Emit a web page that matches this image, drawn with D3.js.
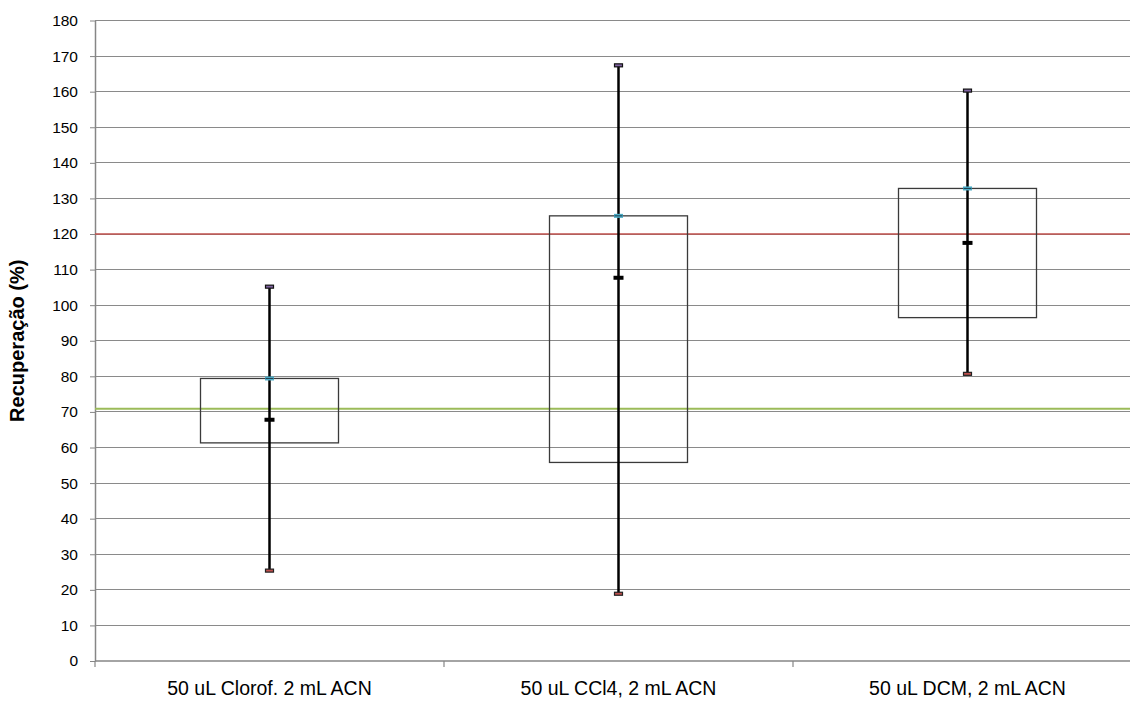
<!DOCTYPE html>
<html><head><meta charset="utf-8">
<script src="https://cdn.jsdelivr.net/npm/d3@7"></script>
<style>body{margin:0;background:#fff}svg{display:block}</style>
</head><body>
<script>
const categories = ["50 uL Clorof. 2 mL ACN", "50 uL CCl4, 2 mL ACN", "50 uL DCM, 2 mL ACN"];
const maxVals = [105.2, 167.4, 160.3];
const q3Vals = [79.4, 125.1, 132.8];
const medianVals = [67.8, 107.7, 117.5];
const q1Vals = [61.3, 55.8, 96.5];
const minVals = [25.4, 18.9, 80.7];
const upperLimit = 120;
const lowerLimit = 70.9;
const yTicks = d3.range(0, 181, 10);

const W = 1130, H = 706;
const svg = d3.select("body").append("svg").attr("width", W).attr("height", H);
const font = "'Liberation Sans', Arial, sans-serif";

const x = d3.scaleBand().domain(categories).range([95, 1142]).padding(0);
const y = d3.scaleLinear().domain([0, 180]).range([661, 20.5]);

// gridlines
svg.append("g").selectAll("line").data(yTicks.filter(d => d > 0)).join("line")
  .attr("x1", 95).attr("x2", W).attr("y1", d => y(d)).attr("y2", d => y(d))
  .attr("stroke", "#8a8a8a").attr("stroke-width", 1).attr("shape-rendering", "crispEdges");

// y axis
const yAxis = svg.append("g").attr("transform", "translate(95,0)")
  .call(d3.axisLeft(y).tickValues(yTicks).tickSize(5).tickPadding(12).tickSizeOuter(0));
yAxis.select(".domain").attr("stroke", "#868686").attr("stroke-width", 1.5);
yAxis.selectAll(".tick line").attr("stroke", "#868686");
yAxis.selectAll("text").attr("font-family", font).attr("font-size", 15.5).attr("fill", "#000");

// x axis
const xAxis = svg.append("g").attr("transform", "translate(0,661)")
  .call(d3.axisBottom(x).tickSize(0).tickPadding(20).tickSizeOuter(0));
xAxis.select(".domain").attr("stroke", "#868686").attr("stroke-width", 1.5).attr("d", `M95,0H${W}`);
xAxis.selectAll("text").attr("font-family", font).attr("font-size", 19.5).attr("fill", "#000");
// category boundary ticks
svg.append("g").selectAll("line").data(categories).join("line")
  .attr("x1", d => x(d)).attr("x2", d => x(d)).attr("y1", 661).attr("y2", 667)
  .attr("stroke", "#868686").attr("stroke-width", 1.2);

// reference lines
svg.append("line").attr("x1", 95).attr("x2", W).attr("y1", y(upperLimit)).attr("y2", y(upperLimit))
  .attr("stroke", "#c0504d").attr("stroke-width", 1.5);
svg.append("line").attr("x1", 95).attr("x2", W).attr("y1", y(lowerLimit)).attr("y2", y(lowerLimit))
  .attr("stroke", "#9bbb59").attr("stroke-width", 2);

const boxW = 138;
const cx = d => x(d) + x.bandwidth() / 2;
const data = categories.map((c, i) => ({c, max: maxVals[i], q3: q3Vals[i], med: medianVals[i], q1: q1Vals[i], min: minVals[i]}));
const g = svg.append("g").selectAll("g").data(data).join("g");

g.append("rect").attr("x", d => cx(d.c) - boxW / 2).attr("width", boxW)
  .attr("y", d => y(d.q3)).attr("height", d => y(d.q1) - y(d.q3))
  .attr("fill", "none").attr("stroke", "#3a3a3a").attr("stroke-width", 1.3);

g.append("line").attr("x1", d => cx(d.c)).attr("x2", d => cx(d.c))
  .attr("y1", d => y(d.min)).attr("y2", d => y(d.max))
  .attr("stroke", "#000").attr("stroke-width", 2.5);

// markers
function marker(key, w, h, fill, stroke, sw) {
  g.append("rect").attr("x", d => cx(d.c) - w / 2).attr("y", d => y(d[key]) - h / 2)
    .attr("width", w).attr("height", h).attr("fill", fill).attr("stroke", stroke).attr("stroke-width", sw);
}
marker("max", 8, 3, "#8064a2", "#111", 1.2);
marker("min", 8, 3, "#c0504d", "#222", 1.2);
marker("q3", 9, 4, "#4bacc6", "none", 0);
g.append("line").attr("x1", d => cx(d.c) - 4).attr("x2", d => cx(d.c) + 4)
  .attr("y1", d => y(d.q3)).attr("y2", d => y(d.q3)).attr("stroke", "#1f3f4f").attr("stroke-width", 1);
marker("med", 10, 4, "#000", "none", 0);

// y title
svg.append("text").attr("transform", `translate(24,${y(90)}) rotate(-90)`)
  .attr("text-anchor", "middle").attr("font-family", font).attr("font-size", 20).attr("font-weight", "bold")
  .text("Recuperação (%)");
</script>
</body></html>
